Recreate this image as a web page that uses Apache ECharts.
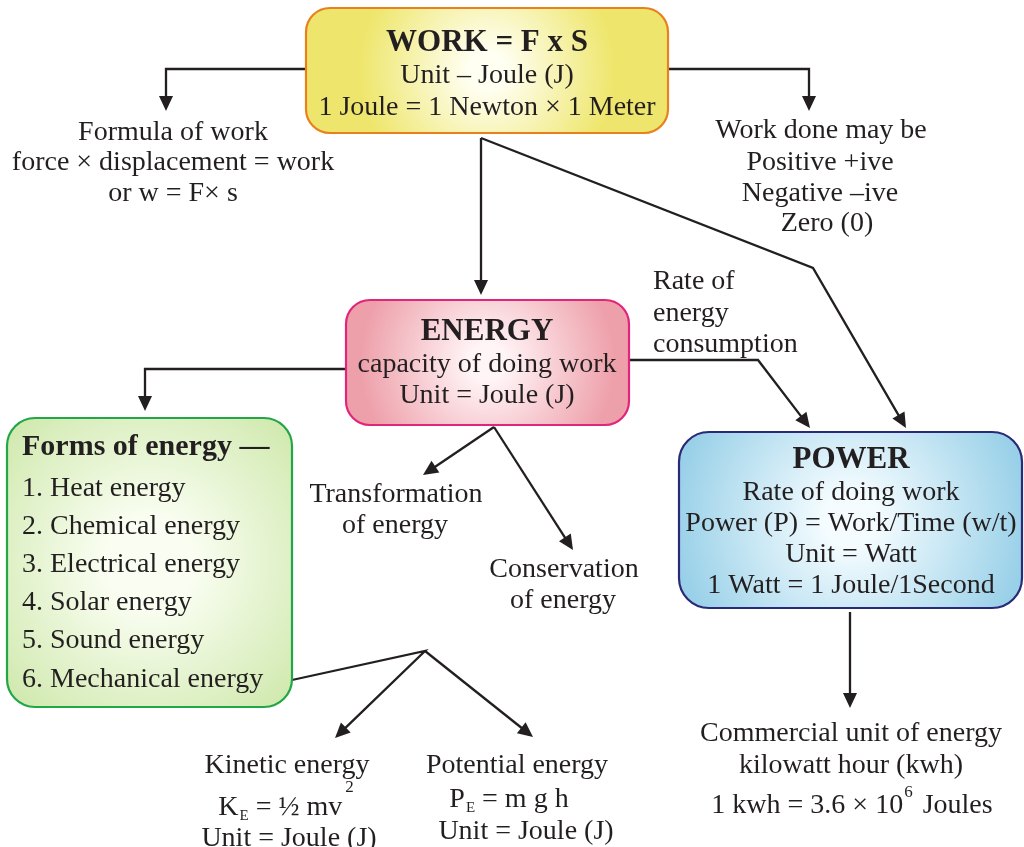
<!DOCTYPE html>
<html>
<head>
<meta charset="utf-8">
<script src="https://cdn.jsdelivr.net/npm/echarts@6/dist/echarts.min.js"></script>
<style>
html,body{margin:0;padding:0;background:#ffffff;}
#chart{width:1024px;height:847px;}
</style>
</head>
<body>
<div id="chart"></div>
<script>
// ---------- content (data) ----------
const boxIds = ['work', 'energy', 'forms', 'power'];
const boxTitles = ['WORK = F x S', 'ENERGY', 'Forms of energy —', 'POWER'];
const boxLines = [
  ['Unit – Joule (J)', '1 Joule = 1 Newton × 1 Meter'],
  ['capacity of doing work', 'Unit = Joule (J)'],
  ['1. Heat energy', '2. Chemical energy', '3. Electrical energy', '4. Solar energy', '5. Sound energy', '6. Mechanical energy'],
  ['Rate of doing work', 'Power (P) = Work/Time (w/t)', 'Unit = Watt', '1 Watt = 1 Joule/1Second']
];
const noteIds = ['formula', 'workSign', 'rateNote', 'transform', 'conserve', 'kinetic', 'potential', 'commercial'];
const noteLines = [
  ['Formula of work', 'force × displacement = work', 'or w = F× s'],
  ['Work done may be', 'Positive +ive', 'Negative –ive', 'Zero (0)'],
  ['Rate of', 'energy', 'consumption'],
  ['Transformation', 'of energy'],
  ['Conservation', 'of energy'],
  ['Kinetic energy', 'K{sub|E} = ½ mv{sup|2}', 'Unit = Joule (J)'],
  ['Potential energy', 'P{sub|E} = m g h', 'Unit = Joule (J)'],
  ['Commercial unit of energy', 'kilowatt hour (kwh)', '1 kwh = 3.6 × 10{sup6|6} Joules']
];
const links = [
  ['work', 'formula'], ['work', 'workSign'], ['work', 'energy'], ['work', 'power'],
  ['energy', 'power'], ['energy', 'forms'], ['energy', 'transform'], ['energy', 'conserve'],
  ['forms', 'kinetic'], ['forms', 'potential'], ['power', 'commercial']
];

// ---------- layout (diagram units = canvas px through hidden axes) ----------
const boxLayout = {
  work:   { x: 306, y: 8,   w: 362, h: 125, r: 24, tx: 487, align: 'center', ys: [40, 73, 105] },
  energy: { x: 346, y: 300, w: 283, h: 125, r: 24, tx: 487, align: 'center', ys: [329, 362, 393] },
  forms:  { x: 7,   y: 418, w: 285, h: 289, r: 28, tx: 22,  align: 'left',   ys: [445, 486, 524, 562, 600, 638, 677] },
  power:  { x: 679, y: 432, w: 343, h: 176, r: 30, tx: 851, align: 'center', ys: [457, 490, 521, 552, 583] }
};
const titleSizes = { work: 31, energy: 31, forms: 30, power: 31 };
const noteLayout = {
  formula:    { align: 'center', pos: [[173, 130], [173, 160], [173, 191]] },
  workSign:   { align: 'center', pos: [[821, 128], [820, 160], [820, 191], [827, 221]] },
  rateNote:   { align: 'left',   pos: [[653, 279], [653, 311], [653, 342]] },
  transform:  { align: 'center', pos: [[396, 492], [395, 523]] },
  conserve:   { align: 'center', pos: [[564, 567], [563, 598]] },
  kinetic:    { align: 'center', pos: [[287, 763], [286, 805], [289, 836]] },
  potential:  { align: 'center', pos: [[517, 763], [509, 797], [526, 829]] },
  commercial: { align: 'center', pos: [[851, 731], [851, 763], [852, 803]] }
};
const linkLayout = {
  'work>formula':      [[306, 69], [166, 69], [166, 111]],
  'work>workSign':     [[668, 69], [809, 69], [809, 111]],
  'work>energy':       [[481, 138], [481, 295]],
  'work>power':        [[481, 138], [813, 268], [906, 428]],
  'energy>power':      [[629, 360], [758, 360], [810, 428]],
  'energy>forms':      [[346, 369], [145, 369], [145, 411]],
  'energy>transform':  [[494, 427], [423, 475]],
  'energy>conserve':   [[494, 427], [573, 550]],
  'forms>kinetic':     [[292, 680], [425, 651], [335, 738]],
  'forms>potential':   [[425, 651], [533, 737]],
  'power>commercial':  [[850, 612], [850, 708]]
};
const TEXT_DY = 2.5;

// ---------- styles ----------
const FONT = '"Liberation Serif", "Times New Roman", serif';
const INK = '#231f20';
const boxStyle = {
  work:   { inner: '#fffff2', outer: '#eee66c', border: '#e8801e' },
  energy: { inner: '#fff4f6', outer: '#eea0aa', border: '#e0267c' },
  forms:  { inner: '#fafef2', outer: '#b6dc84', border: '#22a646' },
  power:  { inner: '#f4fcff', outer: '#98d0e8', border: '#2a2a78' }
};
const richStyles = {
  sub:  { fontFamily: FONT, fontSize: 15, fill: INK, verticalAlign: 'middle', padding: [18, 0, 0, 1] },
  sup:  { fontFamily: FONT, fontSize: 17, fill: INK, verticalAlign: 'middle', padding: [0, 0, 40, 3] },
  sup6: { fontFamily: FONT, fontSize: 17, fill: INK, verticalAlign: 'middle', padding: [0, 3, 26, 1] }
};

function rectOf(api, L) {
  const p0 = api.coord([L.x, L.y]);
  const p1 = api.coord([L.x + L.w, L.y + L.h]);
  return { x: Math.min(p0[0], p1[0]), y: Math.min(p0[1], p1[1]), width: Math.abs(p1[0] - p0[0]), height: Math.abs(p1[1] - p0[1]) };
}

function textEl(api, str, xy, align, size, weight) {
  const p = api.coord(xy);
  return {
    type: 'text',
    style: {
      text: str, x: p[0], y: p[1] + TEXT_DY, align: align, verticalAlign: 'middle',
      fontFamily: FONT, fontSize: size, fontWeight: weight, fill: INK, rich: richStyles
    }
  };
}

function renderBox(params, api) {
  const id = boxIds[params.dataIndex];
  const L = boxLayout[id];
  const S = boxStyle[id];
  const r = rectOf(api, L);
  const children = [{
    type: 'rect',
    shape: { x: r.x, y: r.y, width: r.width, height: r.height, r: L.r },
    style: {
      fill: new echarts.graphic.RadialGradient(0.5, 0.5, 1.0, [
        { offset: 0, color: S.inner }, { offset: 0.15, color: S.inner }, { offset: 1, color: S.outer }
      ]),
      stroke: S.border, lineWidth: 2.2
    }
  }];
  const texts = [boxTitles[params.dataIndex]].concat(boxLines[params.dataIndex]);
  texts.forEach(function (t, k) {
    children.push(textEl(api, t, [L.tx, L.ys[k]], L.align, k === 0 ? titleSizes[id] : 28, k === 0 ? 'bold' : 'normal'));
  });
  return { type: 'group', children: children };
}

function renderNote(params, api) {
  const id = noteIds[params.dataIndex];
  const L = noteLayout[id];
  const children = noteLines[params.dataIndex].map(function (t, k) {
    return textEl(api, t, L.pos[k], L.align, 28, 'normal');
  });
  return { type: 'group', children: children };
}

function renderLink(params, api) {
  const key = links[params.dataIndex].join('>');
  const pts = linkLayout[key].map(function (p) { return api.coord(p); });
  const n = pts.length;
  const tip = pts[n - 1], prev = pts[n - 2];
  let dx = tip[0] - prev[0], dy = tip[1] - prev[1];
  const len = Math.sqrt(dx * dx + dy * dy);
  dx /= len; dy /= len;
  const headLen = 15, headHalf = 7;
  const base = [tip[0] - dx * headLen, tip[1] - dy * headLen];
  const nx = -dy, ny = dx;
  const linePts = pts.slice(0, n - 1).concat([[tip[0] - dx * 8, tip[1] - dy * 8]]);
  return {
    type: 'group',
    children: [
      { type: 'polyline', shape: { points: linePts }, style: { stroke: INK, lineWidth: 2.3, fill: null, lineJoin: 'miter' } },
      { type: 'polygon', shape: { points: [tip, [base[0] + nx * headHalf, base[1] + ny * headHalf], [base[0] - nx * headHalf, base[1] - ny * headHalf]] }, style: { fill: INK } }
    ]
  };
}

const chart = echarts.init(document.getElementById('chart'), null, { renderer: 'canvas' });
chart.setOption({
  animation: false,
  backgroundColor: '#ffffff',
  grid: { left: 0, right: 0, top: 0, bottom: 0 },
  xAxis: { type: 'value', min: 0, max: 1024, show: false },
  yAxis: { type: 'value', min: 0, max: 847, inverse: true, show: false },
  series: [
    {
      type: 'custom', name: 'links', coordinateSystem: 'cartesian2d', renderItem: renderLink, z: 1,
      data: links.map(function (l) { const p = linkLayout[l.join('>')]; return p[p.length - 1]; })
    },
    {
      type: 'custom', name: 'boxes', coordinateSystem: 'cartesian2d', renderItem: renderBox, z: 2,
      data: boxIds.map(function (id) { const L = boxLayout[id]; return [L.x + L.w / 2, L.y + L.h / 2]; })
    },
    {
      type: 'custom', name: 'notes', coordinateSystem: 'cartesian2d', renderItem: renderNote, z: 3,
      data: noteIds.map(function (id) { return noteLayout[id].pos[0]; })
    }
  ]
});
</script>
</body>
</html>
